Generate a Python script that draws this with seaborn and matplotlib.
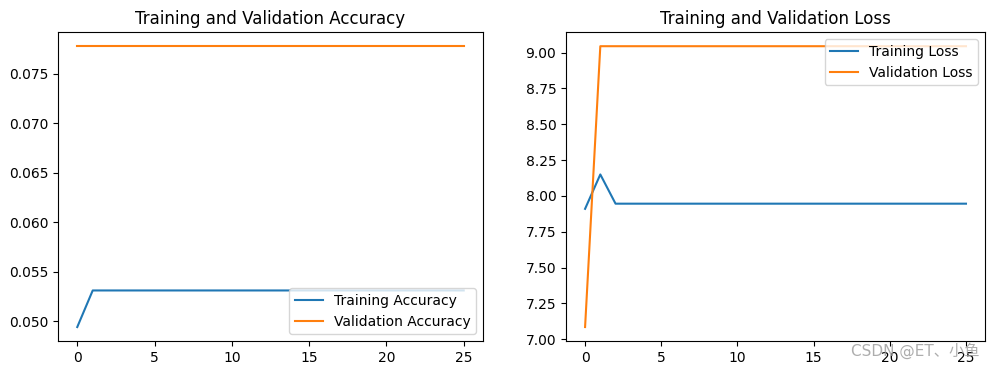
import numpy as np
import pandas as pd
import seaborn as sns
import matplotlib.pyplot as plt

plt.rcParams['font.family'] = ['DejaVu Sans', 'Noto Sans CJK SC']

epochs = list(range(26))
train_acc = [0.0494] + [0.0531] * 25
val_acc = [0.0778] * 26
train_loss = [7.91, 8.15] + [7.946] * 24
val_loss = [7.085] + [9.045] * 25

acc = pd.DataFrame({"epoch": epochs * 2,
                    "value": train_acc + val_acc,
                    "series": ["Training Accuracy"] * 26 + ["Validation Accuracy"] * 26})
loss = pd.DataFrame({"epoch": epochs * 2,
                     "value": train_loss + val_loss,
                     "series": ["Training Loss"] * 26 + ["Validation Loss"] * 26})

fig = plt.figure(figsize=(9.99, 3.74), dpi=100)
ax1 = fig.add_axes([0.058, 0.088, 0.4255, 0.826])
ax2 = fig.add_axes([0.5666, 0.088, 0.4194, 0.826])

sns.lineplot(data=acc, x="epoch", y="value", hue="series", ax=ax1)
ax1.set_title("Training and Validation Accuracy")
ax1.set_xlabel("")
ax1.set_ylabel("")
ax1.legend(loc="lower right")

sns.lineplot(data=loss, x="epoch", y="value", hue="series", ax=ax2)
ax2.set_title("Training and Validation Loss")
ax2.set_xlabel("")
ax2.set_ylabel("")
ax2.legend(loc="upper right")

fig.text(0.852, 0.048, "CSDN @ET、小鱼", color="#999999", alpha=0.8, fontsize=11,
         family=['DejaVu Sans', 'Noto Sans CJK SC'])

plt.savefig("out.png", dpi=100)
